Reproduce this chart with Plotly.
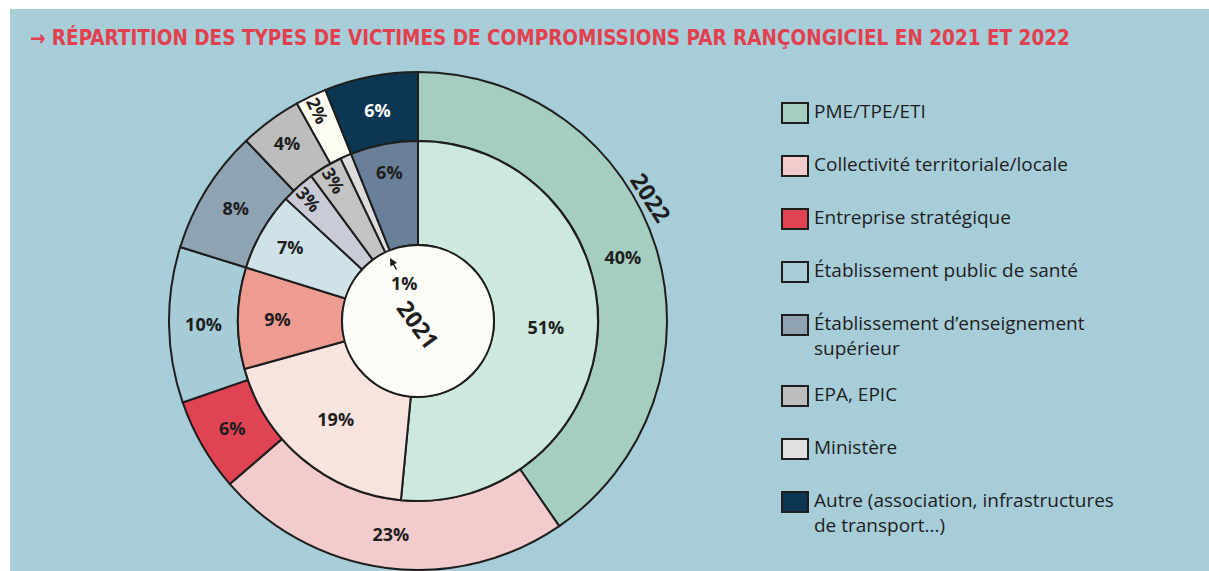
import plotly.graph_objects as go

# categories, clockwise from 12 o'clock
categories = [
    "PME/TPE/ETI",
    "Collectivité territoriale/locale",
    "Entreprise stratégique",
    "Établissement public de santé",
    "Établissement d’enseignement<br>supérieur",
    "EPA, EPIC",
    "Ministère",
    "Autre (association, infrastructures<br>de transport...)",
]
values_2022 = [40, 23, 6, 10, 8, 4, 2, 6]
values_2021 = [51, 19, 9, 7, 3, 3, 1, 6]

colors_2022 = ["#a5cec0", "#f2cbcc", "#e04353", "#a6ccd7", "#8fa3b3", "#bdbdbd", "#fdfdf3", "#0c3652"]
colors_2021 = ["#cde8dc", "#f8e4df", "#ee9c92", "#cfe2e8", "#c9ccd6", "#c3c3c3", "#dcdcde", "#6a7f98"]
legend_colors = ["#a5cec0", "#f2cbcc", "#e04353", "#a7cdd8", "#8fa3b3", "#bdbdbd", "#e0e0e0", "#0c3652"]

W, H = 1209, 571
BG = "#a7cdd8"
DARK = "#1e1e1e"
cx, cy = 418, 321          # pie centre, pixels from top-left
r_out, r_mid, r_in = 249, 180, 76


def px_x(x):
    return x / W


def px_y(y):
    return 1 - y / H


def label_colors(cols):
    return ["#ffffff" if c == "#0c3652" else DARK for c in cols]


fig = go.Figure()

fig.add_trace(go.Pie(
    values=values_2022,
    labels=categories,
    text=[f"{v}%" for v in values_2022],
    texttemplate="%{text}",
    textposition="inside",
    insidetextorientation="auto",
    insidetextfont=dict(family="Open Sans", size=18, color=label_colors(colors_2022), weight="bold"),
    marker=dict(colors=colors_2022, line=dict(color=DARK, width=2)),
    hole=r_mid / r_out,
    sort=False,
    direction="clockwise",
    rotation=0,
    showlegend=False,
    domain=dict(x=[px_x(cx - r_out), px_x(cx + r_out)],
                y=[px_y(cy + r_out), px_y(cy - r_out)]),
    hoverinfo="label+text",
))

fig.add_trace(go.Pie(
    values=values_2021,
    labels=categories,
    text=[f"{v}%" if v > 1 else "" for v in values_2021],
    texttemplate="%{text}",
    textposition="inside",
    insidetextorientation="auto",
    insidetextfont=dict(family="Open Sans", size=18, color=DARK, weight="bold"),
    marker=dict(colors=colors_2021, line=dict(color=DARK, width=2)),
    hole=r_in / r_mid,
    sort=False,
    direction="clockwise",
    rotation=0,
    showlegend=False,
    domain=dict(x=[px_x(cx - r_mid), px_x(cx + r_mid)],
                y=[px_y(cy + r_mid), px_y(cy - r_mid)]),
    hoverinfo="label+text",
))

shapes = [
    # panel background
    dict(type="rect", xref="paper", yref="paper", x0=px_x(10), x1=1, y0=0, y1=px_y(9),
         fillcolor=BG, line=dict(width=0), layer="below"),
    # centre disc
    dict(type="circle", xref="paper", yref="paper",
         x0=px_x(cx - r_in), x1=px_x(cx + r_in), y0=px_y(cy + r_in), y1=px_y(cy - r_in),
         fillcolor="#fdfdf7", line=dict(color=DARK, width=2), layer="above"),
]

annotations = [
    dict(text="→ RÉPARTITION DES TYPES DE VICTIMES DE COMPROMISSIONS PAR RANÇONGICIEL EN 2021 ET 2022",
         x=px_x(28), y=px_y(38), xref="paper", yref="paper", xanchor="left", yanchor="middle",
         showarrow=False,
         font=dict(family="DejaVu Sans Condensed, Liberation Sans, sans-serif", size=20.5,
                   color="#e2404f", weight="bold")),
    dict(text="2021", x=px_x(cx), y=px_y(cy + 3), xref="paper", yref="paper", showarrow=False,
         textangle=54, font=dict(family="Open Sans", size=23, color=DARK, weight="bold")),
    dict(text="2022", x=px_x(651), y=px_y(197), xref="paper", yref="paper", showarrow=False,
         textangle=57, font=dict(family="Open Sans", size=23, color=DARK, weight="bold")),
    dict(text=f"{values_2021[6]}%", x=px_x(390), y=px_y(258), xref="paper", yref="paper",
         ax=14, ay=25, showarrow=True, arrowhead=2, arrowsize=1, arrowwidth=1.5, arrowcolor=DARK,
         standoff=0, startstandoff=0,
         font=dict(family="Open Sans", size=18, color=DARK, weight="bold")),
]

# legend on the right
lx, ly0, row, extra = 782, 113, 53, 18
shift = 0
for i, (name, col) in enumerate(zip(categories, legend_colors)):
    y = ly0 + i * row + shift
    shapes.append(dict(type="rect", xref="paper", yref="paper",
                       x0=px_x(lx), x1=px_x(lx + 26), y0=px_y(y + 10), y1=px_y(y - 10),
                       fillcolor=col, line=dict(color=DARK, width=2)))
    annotations.append(dict(text=name, x=px_x(lx + 30), y=px_y(y - 17), xref="paper", yref="paper",
                            xanchor="left", yanchor="top", align="left", showarrow=False,
                            font=dict(family="Open Sans", size=19, color=DARK)))
    shift += extra * name.count("<br>")

fig.update_layout(
    width=W, height=H,
    margin=dict(l=0, r=0, t=0, b=0),
    paper_bgcolor="#ffffff",
    shapes=shapes,
    annotations=annotations,
)

# drop the default body margin so the figure fills the window exactly
fig.write_html("out.html",
               config={"displayModeBar": False},
               post_script="document.body.style.margin='0';document.body.style.overflow='hidden';")
